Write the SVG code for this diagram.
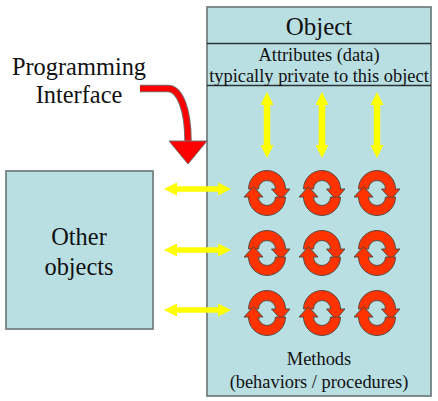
<svg xmlns="http://www.w3.org/2000/svg" width="438" height="401" viewBox="0 0 438 401">
<style>
.box{fill:#b9dfe3;stroke:#6f7b7d;stroke-width:1.700}
.div{stroke:#2a3436;stroke-width:1.300;fill:none}
text{font-family:"Liberation Serif",serif;fill:#111;text-anchor:middle}
.y{fill:none;stroke:#ffff00;marker-start:url(#h);marker-end:url(#h)}
.v{stroke-width:6.500}
.o{stroke-width:5.500}
.c{fill:#ff3300;stroke:#4a4540;stroke-width:.9}
</style>
<defs>
<marker id="h" viewBox="0 0 13 13" refX="2" refY="6.500" markerWidth="13" markerHeight="13" markerUnits="userSpaceOnUse" orient="auto-start-reverse"><path d="M0 0L13 6.500L0 13Z" fill="#ffff00"/></marker>
<g id="cyc">
<path class="c" d="M-18.500 -4A18.500 18.500 0 0 1 18.500 -4H23L14 6.500L4.500 -4H8.500A8.500 8.500 0 0 0 -8.500 -4Z"/>
<path class="c" d="M18.500 4A18.500 18.500 0 0 1 -18.500 4H-23L-13.500 -6.500L-4 4H-8.500A8.500 8.500 0 0 0 8.500 4Z"/>
</g>
</defs>
<g id="object">
<rect class="box" x="207" y="7" width="224" height="389"/>
<path class="div" d="M207 43.500H431M207 85.500H431"/>
<text x="319" y="35" font-size="25">Object</text>
<text x="319" y="61" font-size="18.400">Attributes (data)</text>
<text x="319" y="82" font-size="18.400">typically private to this object</text>
<text x="319" y="365" font-size="18.400">Methods</text>
<text x="319" y="388" font-size="18.400">(behaviors / procedures)</text>
</g>
<g id="other">
<rect class="box" x="6" y="171" width="147" height="158"/>
<text x="79" y="245" font-size="24.400">Other</text>
<text x="79" y="275" font-size="24.400">objects</text>
</g>
<g id="interface">
<text x="79" y="75" font-size="24.400">Programming</text>
<text x="79" y="103" font-size="24.400">Interface</text>
</g>
<g id="methods">
<use href="#cyc" x="267" y="193"/><use href="#cyc" x="322" y="193"/><use href="#cyc" x="377" y="193"/>
<use href="#cyc" x="267" y="253"/><use href="#cyc" x="322" y="253"/><use href="#cyc" x="377" y="253"/>
<use href="#cyc" x="267" y="313"/><use href="#cyc" x="322" y="313"/><use href="#cyc" x="377" y="313"/>
</g>
<g id="connectors">
<path class="y v" d="M267 103V147"/><path class="y v" d="M322 103V147"/><path class="y v" d="M377 103V147"/>
<path class="y o" d="M175 189H220"/><path class="y o" d="M175 250H220"/><path class="y o" d="M175 310H220"/>
<path d="M140 88.500H168C180 88.500 188 110 188 141" fill="none" stroke="#7a6a6a" stroke-width="7.500"/>
<path d="M140 88.500H168C180 88.500 188 110 188 141" fill="none" stroke="#ff0000" stroke-width="5.500"/>
<path d="M169 141H207L188 164Z" fill="#ff0000" stroke="#7a6a6a" stroke-width="1"/>
</g>
</svg>
